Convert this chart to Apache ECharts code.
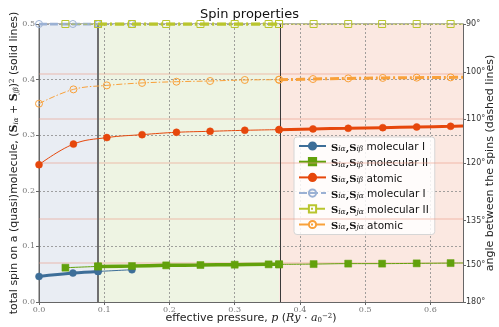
<!DOCTYPE html>
<html>
<head>
<meta charset="utf-8">
<script src="https://cdn.jsdelivr.net/npm/echarts@6/dist/echarts.min.js"></script>
<style>
html, body { margin: 0; padding: 0; background: #fff; }
#box { width: 499px; height: 327px; }
</style>
</head>
<body>
<div id="box"></div>
<script>
// molecular I (stable at low pressure)
var molIX = [0, 0.052, 0.0905, 0.1425]
var molISi = [0.046, 0.052, 0.055, 0.058]
var molISj = [0.5, 0.5, 0.5, 0.5]

// molecular II
var molIIX = [0.0405, 0.0905, 0.1425, 0.195, 0.2475, 0.300, 0.352, 0.368, 0.421, 0.474, 0.526, 0.579, 0.631]
var molIISi = [0.0617, 0.064, 0.0647, 0.0659, 0.0665, 0.0671, 0.0677, 0.0677, 0.0682, 0.069, 0.069, 0.0695, 0.070]
var molIISj = [0.5, 0.5, 0.5, 0.5, 0.5, 0.5, 0.5, 0.5, 0.5, 0.5, 0.5, 0.5, 0.5]

// atomic
var atomX = [0, 0.0528, 0.104, 0.158, 0.2107, 0.2623, 0.3155, 0.368, 0.420, 0.474, 0.527, 0.579, 0.631]
var atomSi = [0.247, 0.284, 0.2957, 0.301, 0.3052, 0.307, 0.3088, 0.310, 0.3113, 0.3124, 0.3136, 0.3148, 0.316]
var atomSj = [0.3567, 0.3824, 0.3896, 0.394, 0.3962, 0.3975, 0.3993, 0.3998, 0.401, 0.4022, 0.403, 0.4035, 0.404]

// curve ends at the right edge
var tailX = 0.65
var molIISiTail = 0.0702
var atomSiTail = 0.3165
var atomSjTail = 0.4042

// phase boundaries
var phaseEdges = [0, 0.09, 0.368, 0.65]

// right axis: angle between spins
var angleTicks = [90, 100, 110, 120, 135, 150, 180]
var angleLabels = ['90°', '100°', '110°', '120°', '135°', '150°', '180°']

var xTicks = ['0.0', '0.1', '0.2', '0.3', '0.4', '0.5', '0.6']
var yTicks = ['0.0', '0.1', '0.2', '0.3', '0.4', '0.5']

var legendParts = [
    ['iα', 'iβ', 'molecular I'],
    ['iα', 'iβ', 'molecular II'],
    ['iα', 'iβ', 'atomic'],
    ['iα', 'jα', 'molecular I'],
    ['iα', 'jα', 'molecular II'],
    ['iα', 'jα', 'atomic']
]
var names = ['mol I Si', 'mol II Si', 'atomic Si', 'mol I Sj', 'mol II Sj', 'atomic Sj']

function angleToSpin(a) {
    return 0.5 * (1 + Math.cos(a * Math.PI / 180))
}
var angleValues = angleTicks.map(angleToSpin)

function pairs(xs, ys, from, to) {
    var out = []
    for (var i = 0; i < xs.length; i++) {
        if (xs[i] >= from - 1e-9 && xs[i] <= to + 1e-9) out.push([xs[i], ys[i]])
    }
    return out
}

var BLUE = '#3d6e98'
var GREEN = '#62a10c'
var RED = '#e6470b'
var LBLUE = '#9bb1d4'
var LGREEN = '#b9c52e'
var ORANGE = '#f9a13a'
var DASHDOT = [9, 3, 2, 3]

var chart = echarts.init(document.getElementById('box'))

function line(name, data, color, width, type, symbol, hollow, z) {
    return {
        name: name,
        type: 'line',
        data: data,
        smooth: 0.4,
        z: z,
        symbol: symbol,
        symbolSize: 7,
        showAllSymbol: true,
        lineStyle: { color: color, width: width, type: type },
        itemStyle: hollow
            ? { color: 'rgba(255,255,255,0)', borderColor: color, borderWidth: 1 }
            : { color: color, borderColor: color, borderWidth: 0.5 },
        emphasis: { disabled: true },
        animation: false
    }
}

function withTail(pts, y) {
    var p = pts.slice()
    p.push({ value: [tailX, y], symbol: 'none' })
    return p
}

var series = [
    // backgrounds, boundaries, angle guide lines
    {
        type: 'line',
        data: [],
        z: 0,
        silent: true,
        markArea: {
            silent: true,
            data: [
                [{ xAxis: phaseEdges[0], itemStyle: { color: '#e9edf3' } }, { xAxis: phaseEdges[1] }],
                [{ xAxis: phaseEdges[1], itemStyle: { color: '#eef4e3' } }, { xAxis: phaseEdges[2] }],
                [{ xAxis: phaseEdges[2], itemStyle: { color: '#fbe8e1' } }, { xAxis: phaseEdges[3] }]
            ]
        },
        markLine: {
            silent: true,
            symbol: 'none',
            label: { show: false },
            data: angleValues.slice(1, -1).map(function (v) {
                return { yAxis: v, lineStyle: { color: 'rgba(236,150,130,0.4)', width: 1.5, type: 'solid' } }
            }).concat([
                { xAxis: phaseEdges[1], lineStyle: { color: '#6f6f6f', width: 2, type: 'solid' } },
                { xAxis: phaseEdges[2], lineStyle: { color: '#3a3a3a', width: 1, type: 'solid' } }
            ])
        }
    },
    // solid lines: (S_i + S_j)^2
    line(names[0], pairs(molIX, molISi, 0, 0.0905), BLUE, 3, 'solid', 'circle', false, 5),
    line(names[0], pairs(molIX, molISi, 0.0905, 1), BLUE, 1, 'solid', 'circle', false, 5),
    line(names[1], pairs(molIIX, molIISi, 0.0905, 0.368), GREEN, 3.5, 'solid', 'rect', false, 6),
    line(names[1], pairs(molIIX, molIISi, 0, 0.0905), GREEN, 1, 'solid', 'rect', false, 6),
    line(names[1], withTail(pairs(molIIX, molIISi, 0.368, 1), molIISiTail), GREEN, 1, 'solid', 'rect', false, 6),
    line(names[2], withTail(pairs(atomX, atomSi, 0.368, 1), atomSiTail), RED, 3, 'solid', 'circle', false, 7),
    line(names[2], pairs(atomX, atomSi, 0, 0.368), RED, 1, 'solid', 'circle', false, 7),
    // dashed lines: angle between spins
    line(names[3], pairs(molIX, molISj, 0, 0.0905), LBLUE, 3, [8, 3], 'circle', true, 8),
    line(names[3], pairs(molIX, molISj, 0.0905, 1), LBLUE, 1, [4, 2], 'circle', true, 8),
    line(names[4], pairs(molIIX, molIISj, 0.0905, 0.368), LGREEN, 3.5, DASHDOT, 'rect', true, 9),
    line(names[4], pairs(molIIX, molIISj, 0, 0.0905), LGREEN, 1, [4, 2], 'rect', true, 9),
    line(names[4], withTail(pairs(molIIX, molIISj, 0.368, 1), 0.5), LGREEN, 1, [4, 2], 'rect', true, 9),
    line(names[5], withTail(pairs(atomX, atomSj, 0.368, 1), atomSjTail), ORANGE, 3, DASHDOT, 'circle', true, 10),
    line(names[5], pairs(atomX, atomSj, 0, 0.368), ORANGE, 1, [6, 2, 1.5, 2], 'circle', true, 10)
]

var serif = 'DejaVu Serif'
var sans = 'DejaVu Sans'

chart.setOption({
    animation: false,
    title: {
        text: 'Spin properties',
        left: 'center',
        top: 3,
        textStyle: { fontFamily: sans, fontSize: 13, fontWeight: 'normal', color: '#111' }
    },
    legend: {
        data: names,
        orient: 'vertical',
        left: 294,
        top: 137,
        itemWidth: 27,
        itemHeight: 9,
        itemGap: 2.7,
        padding: [3, 6, 3, 4],
        backgroundColor: 'rgba(255,255,255,0.85)',
        borderColor: '#d6d6d6',
        borderWidth: 1,
        borderRadius: 3,
        formatter: function (name) {
            var p = legendParts[names.indexOf(name)]
            return '{s|S}{sub|' + p[0] + '}{s|,S}{sub|' + p[1] + '} {t|' + p[2] + '}'
        },
        textStyle: {
            color: '#111',
            rich: {
                s: { fontFamily: serif, fontWeight: 'bold', fontSize: 10, color: '#111', verticalAlign: 'bottom', lineHeight: 14 },
                sub: { fontFamily: serif, fontStyle: 'italic', fontSize: 7.5, color: '#111', verticalAlign: 'bottom', lineHeight: 11 },
                t: { fontFamily: sans, fontSize: 10.5, color: '#111', verticalAlign: 'bottom', lineHeight: 14 }
            }
        }
    },
    grid: {
        left: 39,
        right: 36,
        top: 24,
        bottom: 25,
        containLabel: false,
        outerBoundsMode: 'none',
        show: true,
        borderColor: '#666',
        borderWidth: 1,
        backgroundColor: 'transparent'
    },
    xAxis: {
        type: 'value',
        min: 0,
        max: 0.65,
        interval: 0.1,
        z: 3,
        name: '{t|effective pressure, }{i|p}{t| (}{i|Ry}{t| · }{i|a}{sub|0}{sup|−2}{t|)}',
        nameLocation: 'middle',
        nameGap: 11,
        nameMoveOverlap: false,
        nameTextStyle: {
            rich: {
                t: { fontFamily: sans, fontSize: 11, color: '#222' },
                i: { fontFamily: serif, fontStyle: 'italic', fontSize: 11, color: '#222' },
                sub: { fontFamily: serif, fontSize: 7, color: '#222', verticalAlign: 'bottom', padding: [4, 0, 0, 0] },
                sup: { fontFamily: serif, fontSize: 7, color: '#222', verticalAlign: 'top', padding: [0, 0, 4, 0] }
            }
        },
        axisLine: { show: true, lineStyle: { color: '#666' } },
        axisTick: { show: true, length: 3, lineStyle: { color: '#666' } },
        axisLabel: {
            fontFamily: serif, fontSize: 8, color: '#777', margin: 4,
            showMaxLabel: false,
            formatter: function (v) {
                var i = Math.round(v * 10)
                return Math.abs(v * 10 - i) < 1e-6 ? xTicks[i] : ''
            }
        },
        splitLine: { show: true, lineStyle: { color: '#8a8a8a', width: 0.8, type: [2, 2] } }
    },
    yAxis: [{
        type: 'value',
        min: 0,
        max: 0.5,
        interval: 0.1,
        z: 3,
        name: '{t|total spin on a (quasi)molecule, (}{s|S}{sub|iα}{t| + }{s|S}{sub|jβ}{t|)}{sup|2}{t| (solid lines)}',
        nameLocation: 'middle',
        nameGap: 19,
        nameMoveOverlap: false,
        nameRotate: 90,
        nameTextStyle: {
            rich: {
                t: { fontFamily: sans, fontSize: 11, color: '#222' },
                s: { fontFamily: serif, fontWeight: 'bold', fontSize: 11, color: '#222' },
                sub: { fontFamily: serif, fontStyle: 'italic', fontSize: 7, color: '#222', verticalAlign: 'bottom', padding: [4, 0, 0, 0] },
                sup: { fontFamily: serif, fontSize: 7, color: '#222', verticalAlign: 'top', padding: [0, 0, 4, 0] }
            }
        },
        axisLine: { show: true, lineStyle: { color: '#666' } },
        axisTick: { show: true, length: 3, lineStyle: { color: '#666' } },
        axisLabel: {
            fontFamily: serif, fontSize: 8, color: '#777', margin: 4,
            formatter: function (v) { return yTicks[Math.round(v * 10)] }
        },
        splitLine: { show: true, lineStyle: { color: '#8a8a8a', width: 0.8, type: [2, 2] } }
    }, {
        type: 'value',
        min: 0,
        max: 0.5,
        position: 'right',
        z: 3,
        name: 'angle between the spins (dashed lines)',
        nameLocation: 'middle',
        nameGap: 22,
        nameMoveOverlap: false,
        nameRotate: 90,
        nameTextStyle: { fontFamily: sans, fontSize: 11, color: '#222' },
        axisLine: { show: true, lineStyle: { color: '#666' } },
        axisTick: { show: true, length: 3, customValues: angleValues, lineStyle: { color: '#666' } },
        axisLabel: {
            fontFamily: sans, fontSize: 8, color: '#333', margin: 3,
            customValues: angleValues,
            formatter: function (v) {
                var best = 0
                for (var i = 0; i < angleValues.length; i++) {
                    if (Math.abs(angleValues[i] - v) < Math.abs(angleValues[best] - v)) best = i
                }
                return angleLabels[best]
            }
        },
        splitLine: { show: false }
    }],
    series: series
})
</script>
</body>
</html>
